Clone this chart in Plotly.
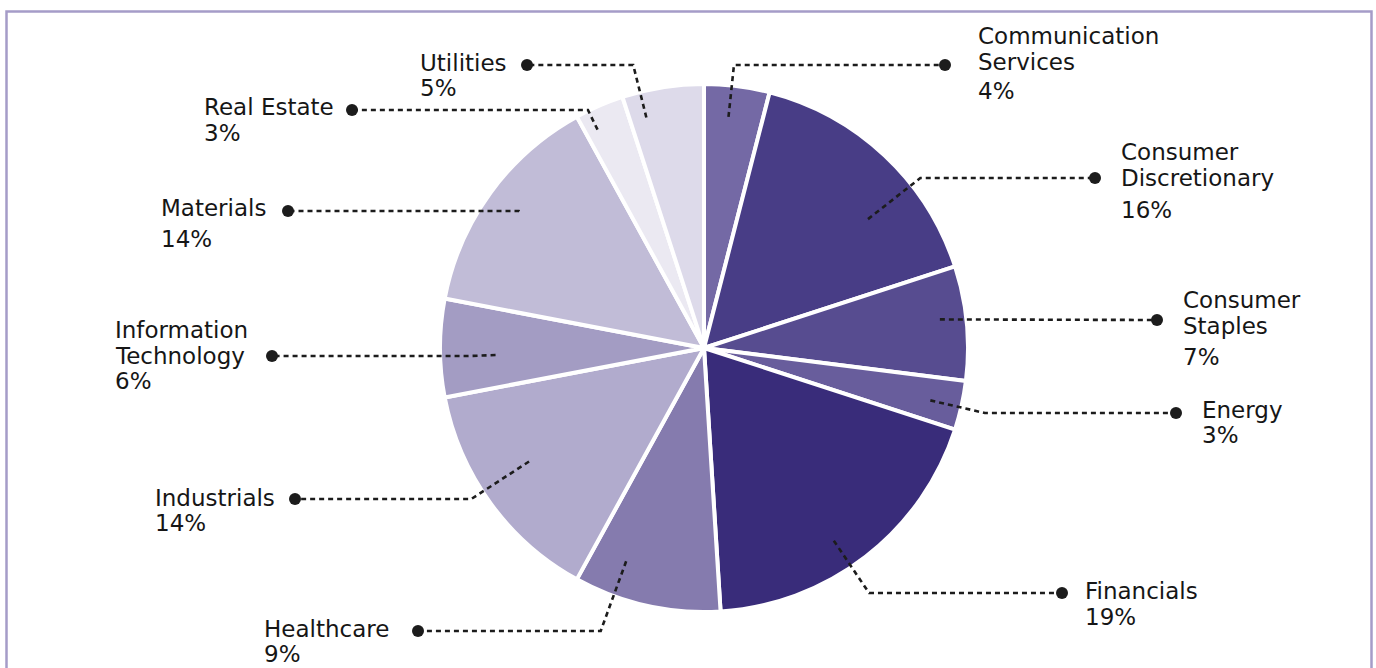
import math
import plotly.graph_objects as go

# ---------------- data ----------------
categories = ["Communication Services", "Consumer Discretionary", "Consumer Staples",
              "Energy", "Financials", "Healthcare", "Industrials",
              "Information Technology", "Materials", "Real Estate", "Utilities"]
shares = [4, 16, 7, 3, 19, 9, 14, 6, 14, 3, 5]

# ---------------- styling ----------------
colors = ["#7469a5", "#483d86", "#574c90", "#685d9c", "#392c7a", "#857bae",
          "#b1abcd", "#a39cc3", "#c1bcd7", "#ebe9f2", "#dddaea"]
wrapped = {
    "Communication Services": ["Communication", "Services"],
    "Consumer Discretionary": ["Consumer", "Discretionary"],
    "Consumer Staples": ["Consumer", "Staples"],
    "Information Technology": ["Information", "Technology"],
}
W, H = 1376, 668
CX, CY, R = 704, 348, 264            # pie centre / radius in px
# leader styling: position within slice (0..1), inner radius fraction, dot x, dot y,
# text left x, first-line y, pct gap
leader = {
    "Communication Services": (0.42, 0.88, 945, 65, 976, 36, 29),
    "Consumer Discretionary": (0.65, 0.79, 1095, 178, 1119, 152, 32),
    "Consumer Staples":       (0.44, 0.90, 1157, 320, 1181, 300, 31),
    "Energy":                 (0.54, 0.88, 1176, 413, 1200, 410, 25),
    "Financials":             (0.556, 0.88, 1062, 593, 1083, 591, 26),
    "Healthcare":             (0.73, 0.86, 418, 631, 262, 629, 25),
    "Industrials":            (0.56, 0.79, 295, 499, 153, 498, 25),
    "Information Technology": (0.41, 0.79, 272, 356, 113, 330, 25),
    "Materials":              (0.51, 0.87, 288, 211, 159, 208, 31),
    "Real Estate":            (0.26, 0.92, 352, 110, 202, 107, 26),
    "Utilities":              (0.22, 0.90, 527, 65, 418, 63, 25),
}
FONT = "DejaVu Sans, Noto Sans, sans-serif"
FS = 23
LINE_GAP = 26
INK = "#1c1c1c"

fig = go.Figure()

fig.add_trace(go.Pie(
    labels=categories, values=shares, sort=False, direction="clockwise", rotation=0,
    textinfo="none", hoverinfo="label+percent", showlegend=False,
    marker=dict(colors=colors, line=dict(color="white", width=4)),
    domain=dict(x=[(CX - R) / W, (CX + R) / W], y=[1 - (CY + R) / H, 1 - (CY - R) / H]),
))

total = sum(shares)
cum = 0
shapes = []
annotations = []
for name, v in zip(categories, shares):
    s_ang = cum / total * 360
    e_ang = (cum + v) / total * 360
    cum += v
    frac, rin, dx, dy, tx, ty, pgap = leader[name]
    th = math.radians(s_ang + frac * (e_ang - s_ang))
    sx, sy = math.sin(th), -math.cos(th)
    ix, iy = CX + rin * R * sx, CY + rin * R * sy
    pts = [(ix, iy)]
    if abs(sy) > 1e-6:
        re = (dy - CY) / sy
        if rin * R < re < 1.4 * R:
            pts.append((CX + re * sx, dy))
    pts.append((dx, dy))
    path = "M " + " L ".join(f"{px:.2f},{py:.2f}" for px, py in pts)
    shapes.append(dict(type="path", xref="x", yref="y", path=path, layer="above",
                       line=dict(color=INK, width=2.6, dash="5px,4px")))
    shapes.append(dict(type="circle", xref="x", yref="y", layer="above",
                       x0=dx - 6, x1=dx + 6, y0=dy - 6, y1=dy + 6,
                       fillcolor=INK, line=dict(width=0)))
    lines = wrapped.get(name, [name])
    yy = ty
    for ln in lines:
        annotations.append(dict(x=tx, y=yy, text=ln))
        yy += LINE_GAP
    yy += pgap - LINE_GAP
    annotations.append(dict(x=tx, y=yy, text=f"{v}%"))

for a in annotations:
    a.update(xref="x", yref="y", xanchor="left", yanchor="middle", showarrow=False,
             font=dict(family=FONT, size=FS, color="#161616"))

shapes.append(dict(type="rect", xref="paper", yref="paper",
                   x0=6.5 / W, x1=1 - 4.5 / W, y0=-0.05, y1=1 - 11.5 / H,
                   line=dict(color="#a59cc8", width=2.5), fillcolor="rgba(0,0,0,0)", layer="below"))

fig.update_layout(
    width=W, height=H, margin=dict(l=0, r=0, t=0, b=0),
    paper_bgcolor="white", plot_bgcolor="rgba(0,0,0,0)",
    xaxis=dict(range=[0, W], visible=False, domain=[0, 1], fixedrange=True),
    yaxis=dict(range=[H, 0], visible=False, domain=[0, 1], fixedrange=True),
    annotations=annotations,
    shapes=shapes,
)

fig.write_html("out.html", config={"displayModeBar": False})
